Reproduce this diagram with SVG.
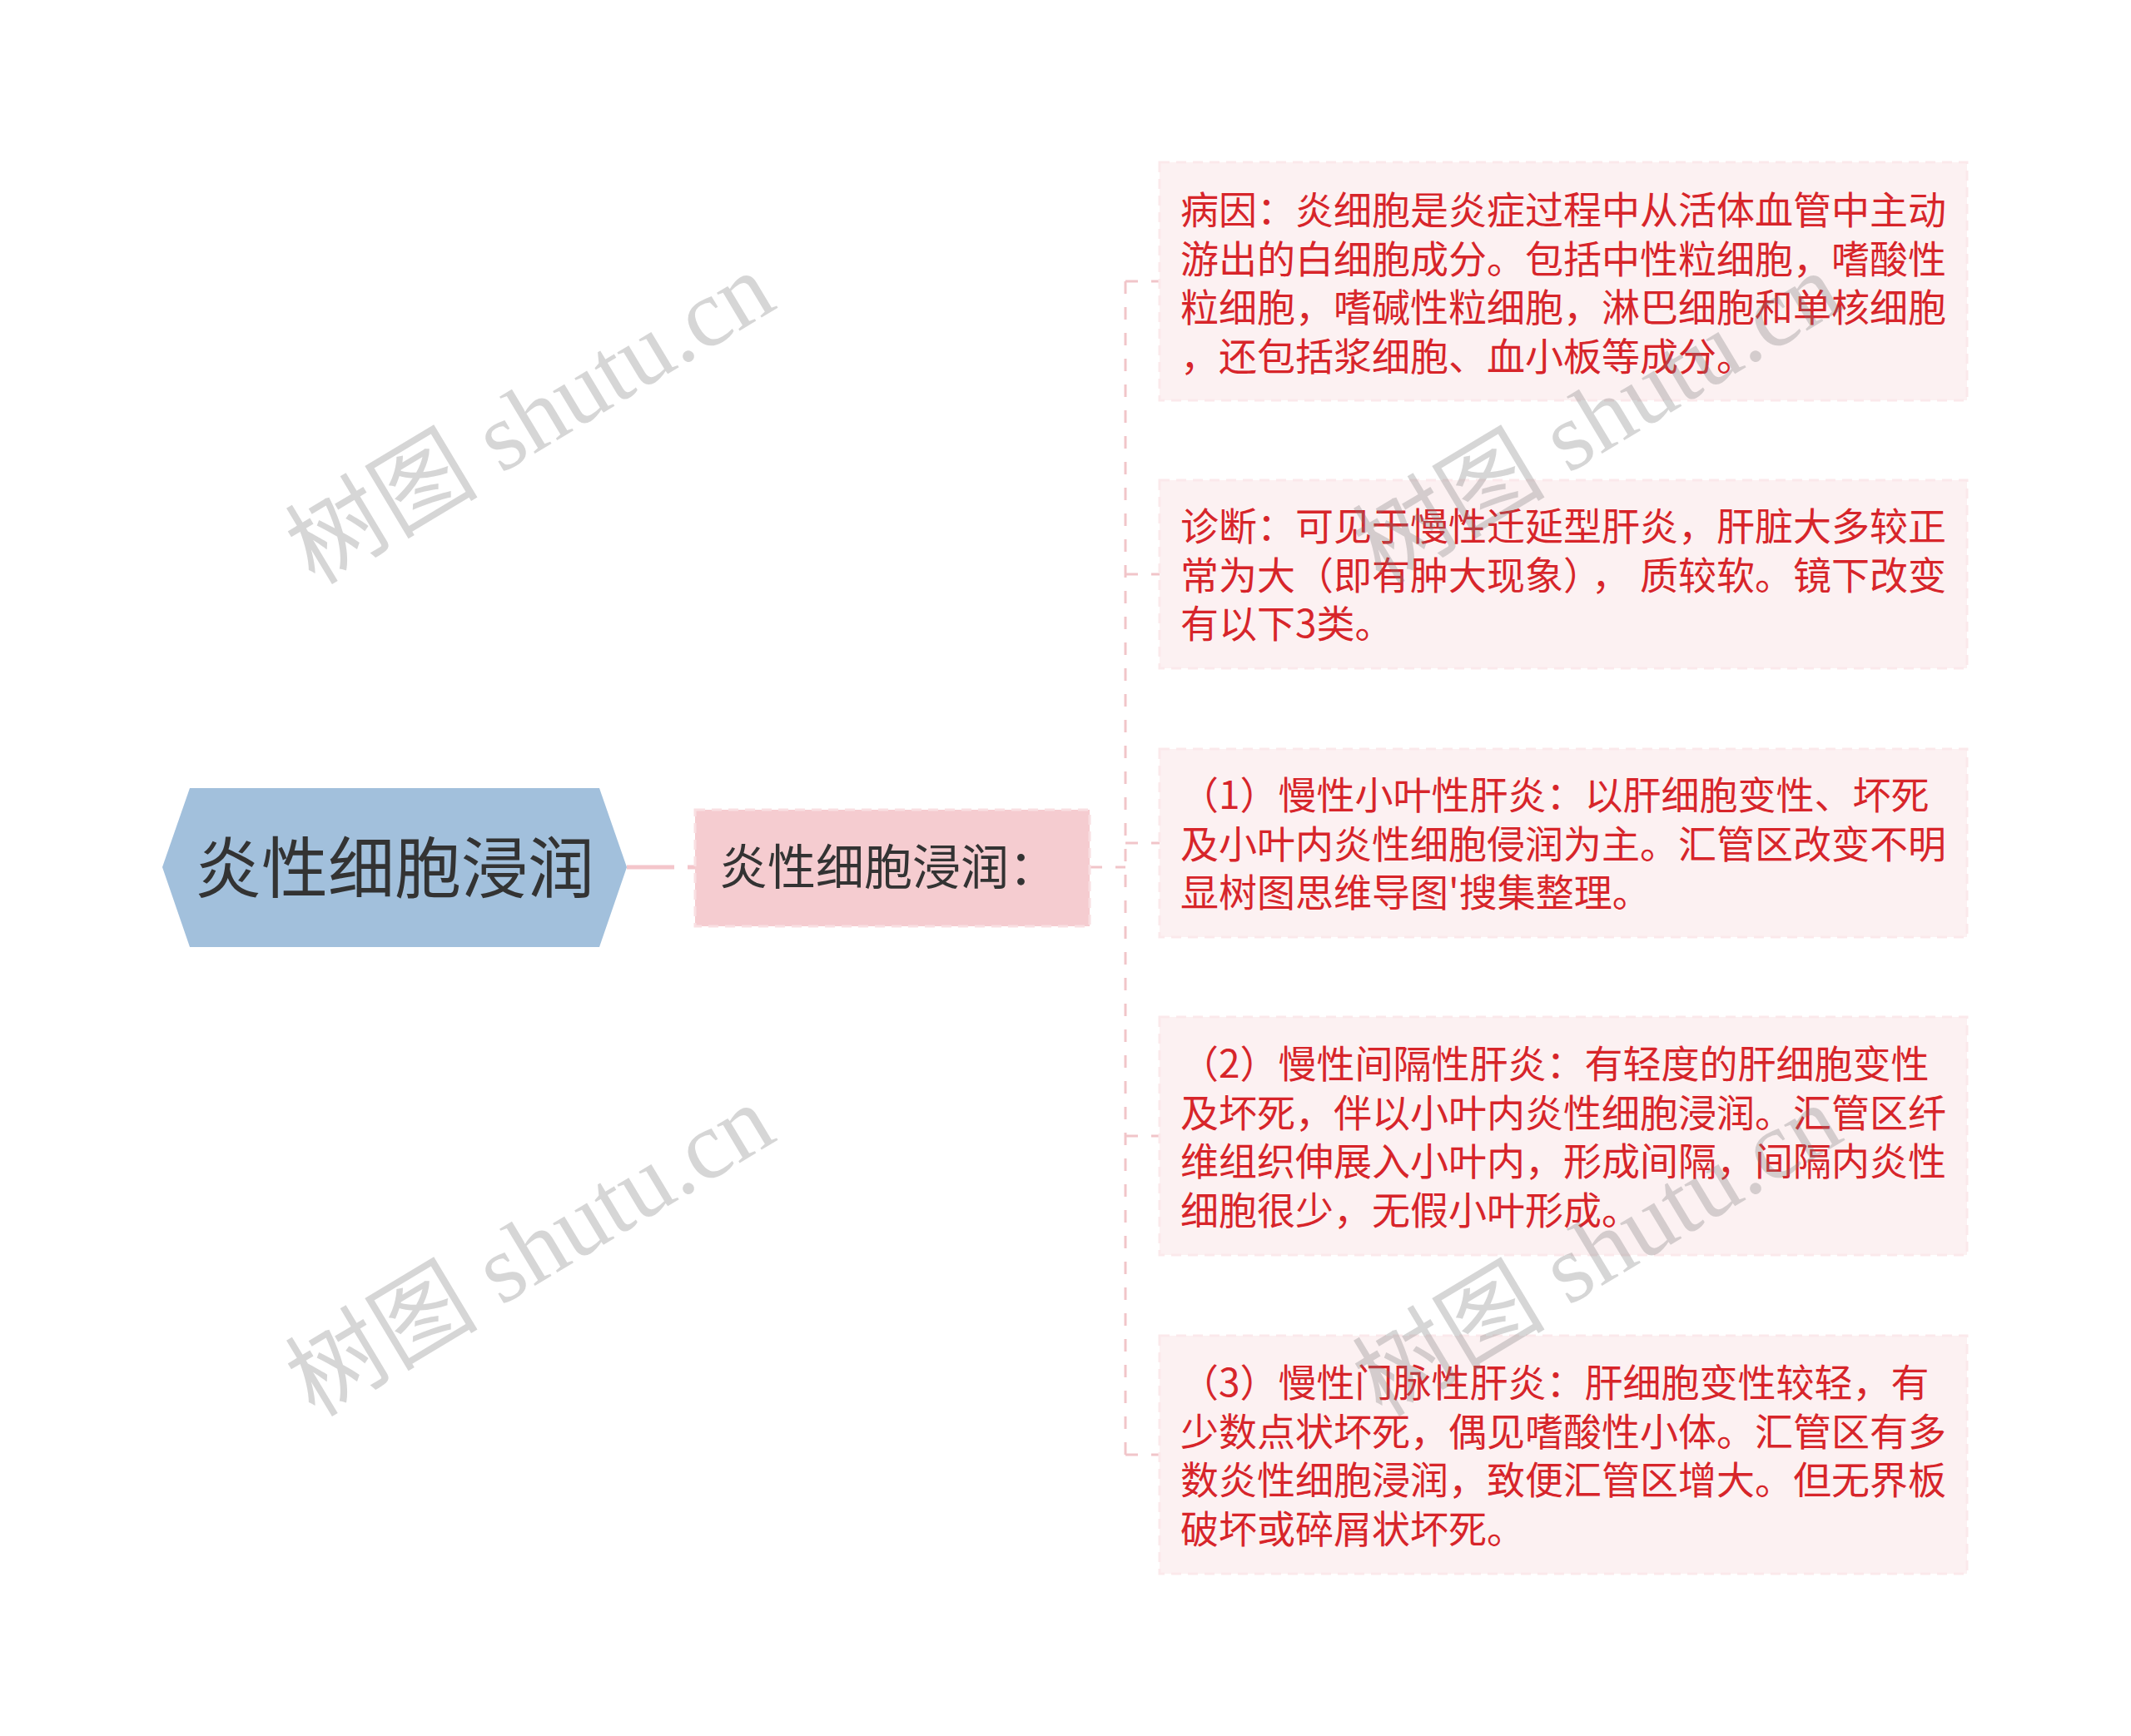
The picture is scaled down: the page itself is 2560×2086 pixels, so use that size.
<svg xmlns="http://www.w3.org/2000/svg" width="2560" height="2086" viewBox="0 0 2560 2086">
<style>
.cjk{font-family:"Noto Sans CJK SC","Noto Sans",sans-serif}
.leaf rect{fill:#fcf1f2;stroke:#fbe9eb;stroke-width:3;stroke-dasharray:12 8}
.leaf text{fill:#d7252a;font-size:46px}
.conn{fill:none;stroke:#f1c5c9;stroke-width:3;stroke-dasharray:15 16}
.wm{font-family:"Liberation Serif","Noto Sans CJK SC",serif;font-size:116px;fill:#7a7a7a;opacity:0.3}
</style>
<rect width="2560" height="2086" fill="#ffffff"/>
<g id="connectors">
<line x1="753" y1="1042" x2="835" y2="1042" stroke="#f4c6cb" stroke-width="5" stroke-dasharray="57 16"/>
<line class="conn" x1="1309" y1="1042" x2="1352" y2="1042"/>
<line class="conn" x1="1352" y1="338" x2="1352" y2="1748"/>
<line class="conn" x1="1352" y1="338" x2="1393" y2="338"/>
<line class="conn" x1="1352" y1="690" x2="1393" y2="690"/>
<line class="conn" x1="1352" y1="1013" x2="1393" y2="1013"/>
<line class="conn" x1="1352" y1="1365" x2="1393" y2="1365"/>
<line class="conn" x1="1352" y1="1748" x2="1393" y2="1748"/>
</g>
<g id="root">
<polygon points="195,1042 228,947 720,947 753,1042 720,1138 228,1138" fill="#a2c0dc"/>
<text class="cjk" x="474" y="1072" font-size="80" fill="#333333" text-anchor="middle">炎性细胞浸润</text>
</g>
<g id="sub">
<rect x="835" y="973" width="474" height="140" fill="#f5ccd0" stroke="#f9dfe2" stroke-width="3" stroke-dasharray="12 8"/>
<text class="cjk" x="864" y="1063" font-size="58" fill="#333333">炎性细胞浸润：</text>
</g>
<g id="leaf1" class="leaf">
<rect x="1393" y="195" width="970" height="286"/>
<text class="cjk"><tspan x="1418" y="269">病因：炎细胞是炎症过程中从活体血管中主动</tspan><tspan x="1418" y="327.5">游出的白细胞成分。包括中性粒细胞，嗜酸性</tspan><tspan x="1418" y="386">粒细胞，嗜碱性粒细胞，淋巴细胞和单核细胞</tspan><tspan x="1418" y="444.5">，还包括浆细胞、血小板等成分。</tspan></text>
</g>
<g id="leaf2" class="leaf">
<rect x="1393" y="577" width="970" height="226"/>
<text class="cjk"><tspan x="1418" y="649">诊断：可见于慢性迁延型肝炎，肝脏大多较正</tspan><tspan x="1418" y="707.5">常为大（即有肿大现象）</tspan><tspan dx="11">，</tspan><tspan dx="12">质较软。镜下改变</tspan><tspan x="1418" y="766">有以下3类。</tspan></text>
</g>
<g id="leaf3" class="leaf">
<rect x="1393" y="900" width="970" height="226"/>
<text class="cjk"><tspan x="1418" y="972">（1）慢性小叶性肝炎：以肝细胞变性、坏死</tspan><tspan x="1418" y="1030.5">及小叶内炎性细胞侵润为主。汇管区改变不明</tspan><tspan x="1418" y="1089">显树图思维导图'搜集整理。</tspan></text>
</g>
<g id="leaf4" class="leaf">
<rect x="1393" y="1222" width="970" height="286"/>
<text class="cjk"><tspan x="1418" y="1295">（2）慢性间隔性肝炎：有轻度的肝细胞变性</tspan><tspan x="1418" y="1353.5">及坏死，伴以小叶内炎性细胞浸润。汇管区纤</tspan><tspan x="1418" y="1412">维组织伸展入小叶内，形成间隔，间隔内炎性</tspan><tspan x="1418" y="1470.5">细胞很少，无假小叶形成。</tspan></text>
</g>
<g id="leaf5" class="leaf">
<rect x="1393" y="1605" width="970" height="286"/>
<text class="cjk"><tspan x="1418" y="1678">（3）慢性门脉性肝炎：肝细胞变性较轻，有</tspan><tspan x="1418" y="1736.5">少数点状坏死，偶见嗜酸性小体。汇管区有多</tspan><tspan x="1418" y="1795">数炎性细胞浸润，致便汇管区增大。但无界板</tspan><tspan x="1418" y="1853.5">破坏或碎屑状坏死。</tspan></text>
</g>
<g id="watermarks">
<text class="wm" transform="translate(378,704) rotate(-31)">树图 shutu.cn</text>
<text class="wm" transform="translate(1660,704) rotate(-31)">树图 shutu.cn</text>
<text class="wm" transform="translate(378,1704) rotate(-31)">树图 shutu.cn</text>
<text class="wm" transform="translate(1660,1704) rotate(-31)">树图 shutu.cn</text>
</g>
</svg>
